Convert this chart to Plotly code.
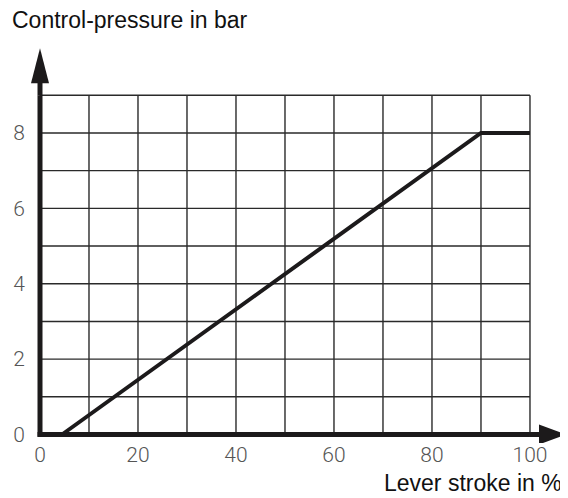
import plotly.graph_objects as go

# Data
lever_stroke = [4.5, 90, 100]
control_pressure = [0, 8, 8]

x_grid = [0, 10, 20, 30, 40, 50, 60, 70, 80, 90, 100]
y_grid = [0, 1, 2, 3, 4, 5, 6, 7, 8, 9]
x_tickvals = [0, 20, 40, 60, 80, 100]
x_ticktext = ["0", "20", "40", "60", "80", "100"]
y_tickvals = [0, 2, 4, 6, 8]
y_ticktext = ["0", "2", "4", "6", "8"]

INK = "#1c1a1b"
GRID = "#2a2a2a"
TICKFONT = dict(family="Roboto, Liberation Sans, Arial, sans-serif", size=21, color="#555555", weight=300)
TITLEFONT = dict(family="Liberation Sans, Arial, sans-serif", size=23, color="#111111")

# the page body has an 8px margin; figure is sized to fit the window
W, H, OFF = 560, 490, 8

fig = go.Figure()

shapes = []
for xv in x_grid:
    shapes.append(dict(type="line", xref="x", yref="y", x0=xv, x1=xv, y0=y_grid[0], y1=y_grid[-1],
                       line=dict(color=GRID, width=1.4), layer="below"))
for yv in y_grid:
    shapes.append(dict(type="line", xref="x", yref="y", x0=x_grid[0], x1=x_grid[-1], y0=yv, y1=yv,
                       line=dict(color=GRID, width=1.4), layer="below"))

# axis lines (thick) with arrow heads
shapes.append(dict(type="line", xref="x", yref="y", x0=0, x1=0, y0=-0.06, y1=y_grid[-1],
                   line=dict(color=INK, width=5)))
shapes.append(dict(type="path", xref="x", yref="y", xsizemode="pixel", ysizemode="pixel",
                   xanchor=0, yanchor=y_grid[-1], path="M-2.5,0 L-2.5,14 L2.5,14 L2.5,0 Z",
                   fillcolor=INK, line=dict(width=0)))
shapes.append(dict(type="path", xref="x", yref="y", xsizemode="pixel", ysizemode="pixel",
                   xanchor=0, yanchor=y_grid[-1], path="M-9,12 L0,47 L9,12 Z",
                   fillcolor=INK, line=dict(width=0)))
shapes.append(dict(type="line", xref="x", yref="y", x0=-0.5, x1=x_grid[-1], y0=0, y1=0,
                   line=dict(color=INK, width=5)))
shapes.append(dict(type="path", xref="x", yref="y", xsizemode="pixel", ysizemode="pixel",
                   xanchor=x_grid[-1], yanchor=0, path="M0,-2.5 L10,-2.5 L10,2.5 L0,2.5 Z",
                   fillcolor=INK, line=dict(width=0)))
shapes.append(dict(type="path", xref="x", yref="y", xsizemode="pixel", ysizemode="pixel",
                   xanchor=x_grid[-1], yanchor=0, path="M9,10 L36,0 L9,-10 Z",
                   fillcolor=INK, line=dict(width=0)))

fig.add_trace(go.Scatter(x=lever_stroke, y=control_pressure, mode="lines",
                         line=dict(color=INK, width=4), hoverinfo="skip", showlegend=False))

fig.update_layout(
    width=W, height=H,
    margin=dict(l=30 - OFF, r=0, t=40 - OFF, b=55, autoexpand=False),
    paper_bgcolor="white", plot_bgcolor="white",
    shapes=shapes,
    showlegend=False,
    title=dict(text="Control-pressure in bar", x=(12 - OFF) / W, y=1 - (20 - OFF) / H,
               xref="container", yref="container", xanchor="left", yanchor="middle",
               font=TITLEFONT),
    annotations=[dict(text="Lever stroke in %", xref="paper", yref="paper",
                      x=(564 - 30) / 538, y=(443 - 483) / 403, xanchor="right", yanchor="middle",
                      showarrow=False, font=TITLEFONT)],
)
fig.update_xaxes(range=[-2.04, 107.76], showgrid=False, zeroline=False, showline=False,
                 automargin=False, ticklabelstandoff=-3,
                 tickvals=x_tickvals, ticktext=x_ticktext, ticks="", tickfont=TICKFONT)
fig.update_yaxes(range=[-0.2255, 10.467], showgrid=False, zeroline=False, showline=False,
                 automargin=False, ticklabelstandoff=4,
                 tickvals=y_tickvals, ticktext=y_ticktext, ticks="", tickfont=TICKFONT)

fig.write_html("out.html")
